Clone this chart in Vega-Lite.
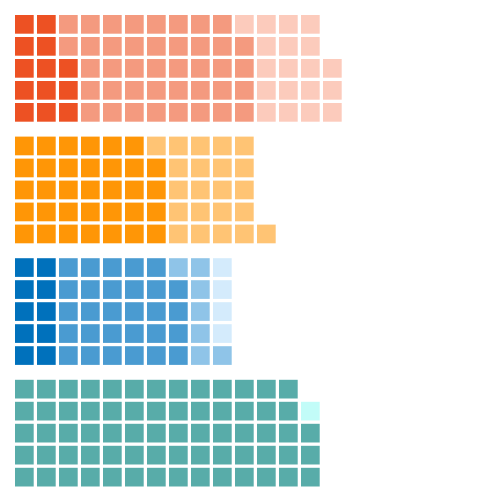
{
  "$schema": "https://vega.github.io/schema/vega-lite/v6.json",
  "padding": {"left": 15, "top": 15, "right": 5, "bottom": 5},
  "background": "white",
  "data": {"values": [
    {"g":"A","c":1,"r":1,"k":"A1"},{"g":"A","c":1,"r":2,"k":"A1"},{"g":"A","c":1,"r":3,"k":"A1"},{"g":"A","c":1,"r":4,"k":"A1"},{"g":"A","c":1,"r":5,"k":"A1"},
    {"g":"A","c":2,"r":1,"k":"A1"},{"g":"A","c":2,"r":2,"k":"A1"},{"g":"A","c":2,"r":3,"k":"A1"},{"g":"A","c":2,"r":4,"k":"A1"},{"g":"A","c":2,"r":5,"k":"A1"},
    {"g":"A","c":3,"r":1,"k":"A2"},{"g":"A","c":3,"r":2,"k":"A2"},{"g":"A","c":3,"r":3,"k":"A1"},{"g":"A","c":3,"r":4,"k":"A1"},{"g":"A","c":3,"r":5,"k":"A1"},
    {"g":"A","c":4,"r":1,"k":"A2"},{"g":"A","c":4,"r":2,"k":"A2"},{"g":"A","c":4,"r":3,"k":"A2"},{"g":"A","c":4,"r":4,"k":"A2"},{"g":"A","c":4,"r":5,"k":"A2"},
    {"g":"A","c":5,"r":1,"k":"A2"},{"g":"A","c":5,"r":2,"k":"A2"},{"g":"A","c":5,"r":3,"k":"A2"},{"g":"A","c":5,"r":4,"k":"A2"},{"g":"A","c":5,"r":5,"k":"A2"},
    {"g":"A","c":6,"r":1,"k":"A2"},{"g":"A","c":6,"r":2,"k":"A2"},{"g":"A","c":6,"r":3,"k":"A2"},{"g":"A","c":6,"r":4,"k":"A2"},{"g":"A","c":6,"r":5,"k":"A2"},
    {"g":"A","c":7,"r":1,"k":"A2"},{"g":"A","c":7,"r":2,"k":"A2"},{"g":"A","c":7,"r":3,"k":"A2"},{"g":"A","c":7,"r":4,"k":"A2"},{"g":"A","c":7,"r":5,"k":"A2"},
    {"g":"A","c":8,"r":1,"k":"A2"},{"g":"A","c":8,"r":2,"k":"A2"},{"g":"A","c":8,"r":3,"k":"A2"},{"g":"A","c":8,"r":4,"k":"A2"},{"g":"A","c":8,"r":5,"k":"A2"},
    {"g":"A","c":9,"r":1,"k":"A2"},{"g":"A","c":9,"r":2,"k":"A2"},{"g":"A","c":9,"r":3,"k":"A2"},{"g":"A","c":9,"r":4,"k":"A2"},{"g":"A","c":9,"r":5,"k":"A2"},
    {"g":"A","c":10,"r":1,"k":"A2"},{"g":"A","c":10,"r":2,"k":"A2"},{"g":"A","c":10,"r":3,"k":"A2"},{"g":"A","c":10,"r":4,"k":"A2"},{"g":"A","c":10,"r":5,"k":"A2"},
    {"g":"A","c":11,"r":1,"k":"A3"},{"g":"A","c":11,"r":2,"k":"A2"},{"g":"A","c":11,"r":3,"k":"A2"},{"g":"A","c":11,"r":4,"k":"A2"},{"g":"A","c":11,"r":5,"k":"A2"},
    {"g":"A","c":12,"r":1,"k":"A3"},{"g":"A","c":12,"r":2,"k":"A3"},{"g":"A","c":12,"r":3,"k":"A3"},{"g":"A","c":12,"r":4,"k":"A3"},{"g":"A","c":12,"r":5,"k":"A3"},
    {"g":"A","c":13,"r":1,"k":"A3"},{"g":"A","c":13,"r":2,"k":"A3"},{"g":"A","c":13,"r":3,"k":"A3"},{"g":"A","c":13,"r":4,"k":"A3"},{"g":"A","c":13,"r":5,"k":"A3"},
    {"g":"A","c":14,"r":1,"k":"A3"},{"g":"A","c":14,"r":2,"k":"A3"},{"g":"A","c":14,"r":3,"k":"A3"},{"g":"A","c":14,"r":4,"k":"A3"},{"g":"A","c":14,"r":5,"k":"A3"},
    {"g":"A","c":15,"r":3,"k":"A3"},{"g":"A","c":15,"r":4,"k":"A3"},{"g":"A","c":15,"r":5,"k":"A3"},

    {"g":"B","c":1,"r":1,"k":"B1"},{"g":"B","c":1,"r":2,"k":"B1"},{"g":"B","c":1,"r":3,"k":"B1"},{"g":"B","c":1,"r":4,"k":"B1"},{"g":"B","c":1,"r":5,"k":"B1"},
    {"g":"B","c":2,"r":1,"k":"B1"},{"g":"B","c":2,"r":2,"k":"B1"},{"g":"B","c":2,"r":3,"k":"B1"},{"g":"B","c":2,"r":4,"k":"B1"},{"g":"B","c":2,"r":5,"k":"B1"},
    {"g":"B","c":3,"r":1,"k":"B1"},{"g":"B","c":3,"r":2,"k":"B1"},{"g":"B","c":3,"r":3,"k":"B1"},{"g":"B","c":3,"r":4,"k":"B1"},{"g":"B","c":3,"r":5,"k":"B1"},
    {"g":"B","c":4,"r":1,"k":"B1"},{"g":"B","c":4,"r":2,"k":"B1"},{"g":"B","c":4,"r":3,"k":"B1"},{"g":"B","c":4,"r":4,"k":"B1"},{"g":"B","c":4,"r":5,"k":"B1"},
    {"g":"B","c":5,"r":1,"k":"B1"},{"g":"B","c":5,"r":2,"k":"B1"},{"g":"B","c":5,"r":3,"k":"B1"},{"g":"B","c":5,"r":4,"k":"B1"},{"g":"B","c":5,"r":5,"k":"B1"},
    {"g":"B","c":6,"r":1,"k":"B1"},{"g":"B","c":6,"r":2,"k":"B1"},{"g":"B","c":6,"r":3,"k":"B1"},{"g":"B","c":6,"r":4,"k":"B1"},{"g":"B","c":6,"r":5,"k":"B1"},
    {"g":"B","c":7,"r":1,"k":"B2"},{"g":"B","c":7,"r":2,"k":"B1"},{"g":"B","c":7,"r":3,"k":"B1"},{"g":"B","c":7,"r":4,"k":"B1"},{"g":"B","c":7,"r":5,"k":"B1"},
    {"g":"B","c":8,"r":1,"k":"B2"},{"g":"B","c":8,"r":2,"k":"B2"},{"g":"B","c":8,"r":3,"k":"B2"},{"g":"B","c":8,"r":4,"k":"B2"},{"g":"B","c":8,"r":5,"k":"B2"},
    {"g":"B","c":9,"r":1,"k":"B2"},{"g":"B","c":9,"r":2,"k":"B2"},{"g":"B","c":9,"r":3,"k":"B2"},{"g":"B","c":9,"r":4,"k":"B2"},{"g":"B","c":9,"r":5,"k":"B2"},
    {"g":"B","c":10,"r":1,"k":"B2"},{"g":"B","c":10,"r":2,"k":"B2"},{"g":"B","c":10,"r":3,"k":"B2"},{"g":"B","c":10,"r":4,"k":"B2"},{"g":"B","c":10,"r":5,"k":"B2"},
    {"g":"B","c":11,"r":1,"k":"B2"},{"g":"B","c":11,"r":2,"k":"B2"},{"g":"B","c":11,"r":3,"k":"B2"},{"g":"B","c":11,"r":4,"k":"B2"},{"g":"B","c":11,"r":5,"k":"B2"},
    {"g":"B","c":12,"r":5,"k":"B2"},

    {"g":"C","c":1,"r":1,"k":"C1"},{"g":"C","c":1,"r":2,"k":"C1"},{"g":"C","c":1,"r":3,"k":"C1"},{"g":"C","c":1,"r":4,"k":"C1"},{"g":"C","c":1,"r":5,"k":"C1"},
    {"g":"C","c":2,"r":1,"k":"C1"},{"g":"C","c":2,"r":2,"k":"C1"},{"g":"C","c":2,"r":3,"k":"C1"},{"g":"C","c":2,"r":4,"k":"C1"},{"g":"C","c":2,"r":5,"k":"C1"},
    {"g":"C","c":3,"r":1,"k":"C2"},{"g":"C","c":3,"r":2,"k":"C2"},{"g":"C","c":3,"r":3,"k":"C2"},{"g":"C","c":3,"r":4,"k":"C2"},{"g":"C","c":3,"r":5,"k":"C2"},
    {"g":"C","c":4,"r":1,"k":"C2"},{"g":"C","c":4,"r":2,"k":"C2"},{"g":"C","c":4,"r":3,"k":"C2"},{"g":"C","c":4,"r":4,"k":"C2"},{"g":"C","c":4,"r":5,"k":"C2"},
    {"g":"C","c":5,"r":1,"k":"C2"},{"g":"C","c":5,"r":2,"k":"C2"},{"g":"C","c":5,"r":3,"k":"C2"},{"g":"C","c":5,"r":4,"k":"C2"},{"g":"C","c":5,"r":5,"k":"C2"},
    {"g":"C","c":6,"r":1,"k":"C2"},{"g":"C","c":6,"r":2,"k":"C2"},{"g":"C","c":6,"r":3,"k":"C2"},{"g":"C","c":6,"r":4,"k":"C2"},{"g":"C","c":6,"r":5,"k":"C2"},
    {"g":"C","c":7,"r":1,"k":"C2"},{"g":"C","c":7,"r":2,"k":"C2"},{"g":"C","c":7,"r":3,"k":"C2"},{"g":"C","c":7,"r":4,"k":"C2"},{"g":"C","c":7,"r":5,"k":"C2"},
    {"g":"C","c":8,"r":1,"k":"C3"},{"g":"C","c":8,"r":2,"k":"C2"},{"g":"C","c":8,"r":3,"k":"C2"},{"g":"C","c":8,"r":4,"k":"C2"},{"g":"C","c":8,"r":5,"k":"C2"},
    {"g":"C","c":9,"r":1,"k":"C3"},{"g":"C","c":9,"r":2,"k":"C3"},{"g":"C","c":9,"r":3,"k":"C3"},{"g":"C","c":9,"r":4,"k":"C3"},{"g":"C","c":9,"r":5,"k":"C3"},
    {"g":"C","c":10,"r":1,"k":"C4"},{"g":"C","c":10,"r":2,"k":"C4"},{"g":"C","c":10,"r":3,"k":"C4"},{"g":"C","c":10,"r":4,"k":"C4"},{"g":"C","c":10,"r":5,"k":"C3"},

    {"g":"D","c":1,"r":1,"k":"D1"},{"g":"D","c":1,"r":2,"k":"D1"},{"g":"D","c":1,"r":3,"k":"D1"},{"g":"D","c":1,"r":4,"k":"D1"},{"g":"D","c":1,"r":5,"k":"D1"},
    {"g":"D","c":2,"r":1,"k":"D1"},{"g":"D","c":2,"r":2,"k":"D1"},{"g":"D","c":2,"r":3,"k":"D1"},{"g":"D","c":2,"r":4,"k":"D1"},{"g":"D","c":2,"r":5,"k":"D1"},
    {"g":"D","c":3,"r":1,"k":"D1"},{"g":"D","c":3,"r":2,"k":"D1"},{"g":"D","c":3,"r":3,"k":"D1"},{"g":"D","c":3,"r":4,"k":"D1"},{"g":"D","c":3,"r":5,"k":"D1"},
    {"g":"D","c":4,"r":1,"k":"D1"},{"g":"D","c":4,"r":2,"k":"D1"},{"g":"D","c":4,"r":3,"k":"D1"},{"g":"D","c":4,"r":4,"k":"D1"},{"g":"D","c":4,"r":5,"k":"D1"},
    {"g":"D","c":5,"r":1,"k":"D1"},{"g":"D","c":5,"r":2,"k":"D1"},{"g":"D","c":5,"r":3,"k":"D1"},{"g":"D","c":5,"r":4,"k":"D1"},{"g":"D","c":5,"r":5,"k":"D1"},
    {"g":"D","c":6,"r":1,"k":"D1"},{"g":"D","c":6,"r":2,"k":"D1"},{"g":"D","c":6,"r":3,"k":"D1"},{"g":"D","c":6,"r":4,"k":"D1"},{"g":"D","c":6,"r":5,"k":"D1"},
    {"g":"D","c":7,"r":1,"k":"D1"},{"g":"D","c":7,"r":2,"k":"D1"},{"g":"D","c":7,"r":3,"k":"D1"},{"g":"D","c":7,"r":4,"k":"D1"},{"g":"D","c":7,"r":5,"k":"D1"},
    {"g":"D","c":8,"r":1,"k":"D1"},{"g":"D","c":8,"r":2,"k":"D1"},{"g":"D","c":8,"r":3,"k":"D1"},{"g":"D","c":8,"r":4,"k":"D1"},{"g":"D","c":8,"r":5,"k":"D1"},
    {"g":"D","c":9,"r":1,"k":"D1"},{"g":"D","c":9,"r":2,"k":"D1"},{"g":"D","c":9,"r":3,"k":"D1"},{"g":"D","c":9,"r":4,"k":"D1"},{"g":"D","c":9,"r":5,"k":"D1"},
    {"g":"D","c":10,"r":1,"k":"D1"},{"g":"D","c":10,"r":2,"k":"D1"},{"g":"D","c":10,"r":3,"k":"D1"},{"g":"D","c":10,"r":4,"k":"D1"},{"g":"D","c":10,"r":5,"k":"D1"},
    {"g":"D","c":11,"r":1,"k":"D1"},{"g":"D","c":11,"r":2,"k":"D1"},{"g":"D","c":11,"r":3,"k":"D1"},{"g":"D","c":11,"r":4,"k":"D1"},{"g":"D","c":11,"r":5,"k":"D1"},
    {"g":"D","c":12,"r":1,"k":"D1"},{"g":"D","c":12,"r":2,"k":"D1"},{"g":"D","c":12,"r":3,"k":"D1"},{"g":"D","c":12,"r":4,"k":"D1"},{"g":"D","c":12,"r":5,"k":"D1"},
    {"g":"D","c":13,"r":1,"k":"D1"},{"g":"D","c":13,"r":2,"k":"D1"},{"g":"D","c":13,"r":3,"k":"D1"},{"g":"D","c":13,"r":4,"k":"D1"},{"g":"D","c":13,"r":5,"k":"D1"},
    {"g":"D","c":14,"r":2,"k":"D2"},{"g":"D","c":14,"r":3,"k":"D1"},{"g":"D","c":14,"r":4,"k":"D1"},{"g":"D","c":14,"r":5,"k":"D1"}
  ]},
  "facet": {"row": {"field": "g", "type": "nominal", "header": null, "sort": ["A", "B", "C", "D"]}},
  "spacing": 14.6,
  "spec": {
    "width": {"step": 22},
    "height": {"step": 22},
    "mark": {"type": "rect"},
    "encoding": {
      "x": {"field": "c", "type": "ordinal", "axis": null,
            "scale": {"domain": [1,2,3,4,5,6,7,8,9,10,11,12,13,14,15], "paddingInner": 0.15, "paddingOuter": 0}},
      "y": {"field": "r", "type": "ordinal", "axis": null,
            "scale": {"domain": [1,2,3,4,5], "paddingInner": 0.15, "paddingOuter": 0}},
      "color": {"field": "k", "type": "nominal", "legend": null,
                "scale": {"domain": ["A1","A2","A3","B1","B2","C1","C2","C3","C4","D1","D2"],
                          "range": ["#ED5123","#F49A7F","#FCCBBC","#FF9606","#FFC474","#0071BC","#4A9BD1","#8FC4E8","#D4EBFC","#58ACA9","#C2FCF8"]}}
    }
  },
  "config": {"view": {"stroke": null}}
}
